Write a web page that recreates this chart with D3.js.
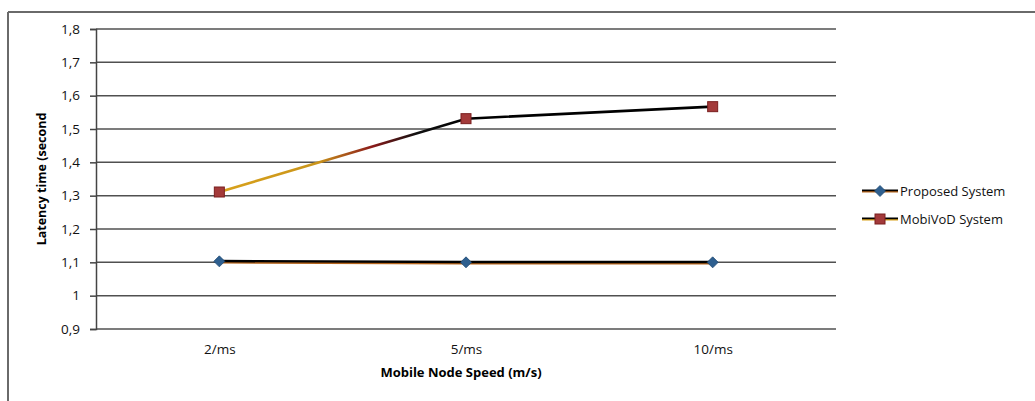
<!DOCTYPE html>
<html><head><meta charset="utf-8">
<script src="https://cdn.jsdelivr.net/npm/d3@7"></script>
<style>body{margin:0;background:#fff;} svg{display:block;font-family:"Open Sans",sans-serif;}</style>
</head><body><svg id="c" width="1035" height="401"></svg>
<script>
const categories = ["2/ms", "5/ms", "10/ms"];
const proposed = [1.103, 1.100, 1.100];
const mobivod = [1.311, 1.531, 1.567];
const yTicks = [0.9, 1.0, 1.1, 1.2, 1.3, 1.4, 1.5, 1.6, 1.7, 1.8];
const seriesNames = ["Proposed System", "MobiVoD System"];

const svg = d3.select("#c");
const L = 96, R = 836, T = 29, B = 329;
const x = d3.scalePoint().domain(categories).range([L, R]).padding(0.5);
const y = d3.scaleLinear().domain([0.9, 1.8]).range([B, T]);
const fmt = v => (Math.round(v * 10) / 10).toString().replace(".", ",");

// outer frame
svg.append("line").attr("x1", 8).attr("x2", 1035).attr("y1", 12).attr("y2", 12).attr("stroke", "#6a6a6a").attr("stroke-width", 2);
svg.append("line").attr("x1", 8).attr("x2", 8).attr("y1", 12).attr("y2", 401).attr("stroke", "#6a6a6a").attr("stroke-width", 2);

// gridlines
svg.append("g").selectAll("line").data(yTicks).join("line")
  .attr("x1", L).attr("x2", R).attr("y1", d => y(d)).attr("y2", d => y(d))
  .attr("stroke", "#505050").attr("stroke-width", 1.5);

// y axis
const ya = svg.append("g").attr("transform", `translate(${L},0)`)
  .call(d3.axisLeft(y).tickValues(yTicks).tickFormat(fmt).tickSize(6).tickPadding(10));
ya.select(".domain").attr("stroke", "#444").attr("stroke-width", 1.5);
ya.selectAll(".tick line").attr("stroke", "#444").attr("stroke-width", 1.5);
ya.selectAll("text").attr("font-size", 13.5).attr("fill", "#111").attr("font-family", "Open Sans");

// x axis labels
const xa = svg.append("g").attr("transform", `translate(0,${B})`)
  .call(d3.axisBottom(x).tickSize(0).tickPadding(15));
xa.select(".domain").remove();
xa.selectAll("text").attr("font-size", 13.5).attr("fill", "#111").attr("font-family", "Open Sans");

// axis titles
svg.append("text").attr("x", (L + R) / 2 - 5).attr("y", 377).attr("text-anchor", "middle")
  .attr("font-size", 13).attr("font-weight", "bold").attr("fill", "#000").text("Mobile Node Speed (m/s)");
svg.append("text").attr("transform", `translate(46,${(T + B) / 2}) rotate(-90)`).attr("text-anchor", "middle")
  .attr("font-size", 12.5).attr("font-weight", "bold").attr("fill", "#000").text("Latency time (second");

// gradient for MobiVoD line
const defs = svg.append("defs");
const g1 = defs.append("linearGradient").attr("id", "gm").attr("gradientUnits", "userSpaceOnUse")
  .attr("x1", x(categories[0])).attr("x2", x(categories[1])).attr("y1", 0).attr("y2", 0);
g1.append("stop").attr("offset", "0%").attr("stop-color", "#d9a21b");
g1.append("stop").attr("offset", "40%").attr("stop-color", "#c9941a");
g1.append("stop").attr("offset", "62%").attr("stop-color", "#8b1a1a");
g1.append("stop").attr("offset", "80%").attr("stop-color", "#111");
g1.append("stop").attr("offset", "100%").attr("stop-color", "#000");

const line = d3.line().x((d, i) => x(categories[i])).y(d => y(d));

// proposed line: orange underline + black line
svg.append("path").datum(proposed).attr("d", line).attr("fill", "none")
  .attr("stroke", "#b5651d").attr("stroke-width", 2).attr("transform", "translate(0,1.2)");
svg.append("path").datum(proposed).attr("d", line).attr("fill", "none")
  .attr("stroke", "#000").attr("stroke-width", 2.4).attr("transform", "translate(0,-0.3)");

// mobivod line
svg.append("path").datum(mobivod).attr("d", line).attr("fill", "none")
  .attr("stroke", "url(#gm)").attr("stroke-width", 2.6);

// markers
const diamondPath = "M0,-5.5L5.5,0L0,5.5L-5.5,0Z";
svg.append("g").selectAll("path").data(proposed).join("path")
  .attr("d", diamondPath).attr("transform", (d, i) => `translate(${x(categories[i])},${y(d)})`)
  .attr("fill", "#2e5f8f").attr("stroke", "#1f4a73").attr("stroke-width", 0.8);
svg.append("g").selectAll("rect").data(mobivod).join("rect")
  .attr("x", (d, i) => x(categories[i]) - 5).attr("y", d => y(d) - 5).attr("width", 10).attr("height", 10)
  .attr("fill", "#a33a3a").attr("stroke", "#7a1f1f").attr("stroke-width", 1);

// legend
const lg = svg.append("g");
const ly = [191, 219];
seriesNames.forEach((n, i) => {
  lg.append("line").attr("x1", 862).attr("x2", 898).attr("y1", ly[i] + 0.8).attr("y2", ly[i] + 0.8)
    .attr("stroke", i === 0 ? "#b5651d" : "#d9a21b").attr("stroke-width", 1.5);
  lg.append("line").attr("x1", 862).attr("x2", 898).attr("y1", ly[i] - 0.6).attr("y2", ly[i] - 0.6)
    .attr("stroke", "#000").attr("stroke-width", 1.6);
  if (i === 0) {
    lg.append("path").attr("d", diamondPath).attr("transform", `translate(880,${ly[i]})`)
      .attr("fill", "#2e5f8f").attr("stroke", "#1f4a73").attr("stroke-width", 0.8);
  } else {
    lg.append("rect").attr("x", 875).attr("y", ly[i] - 5).attr("width", 10).attr("height", 10)
      .attr("fill", "#a33a3a").attr("stroke", "#7a1f1f");
  }
  lg.append("text").attr("x", 900).attr("y", ly[i] + 4.5).attr("font-size", 13).attr("fill", "#111").text(n);
});
</script></body></html>
